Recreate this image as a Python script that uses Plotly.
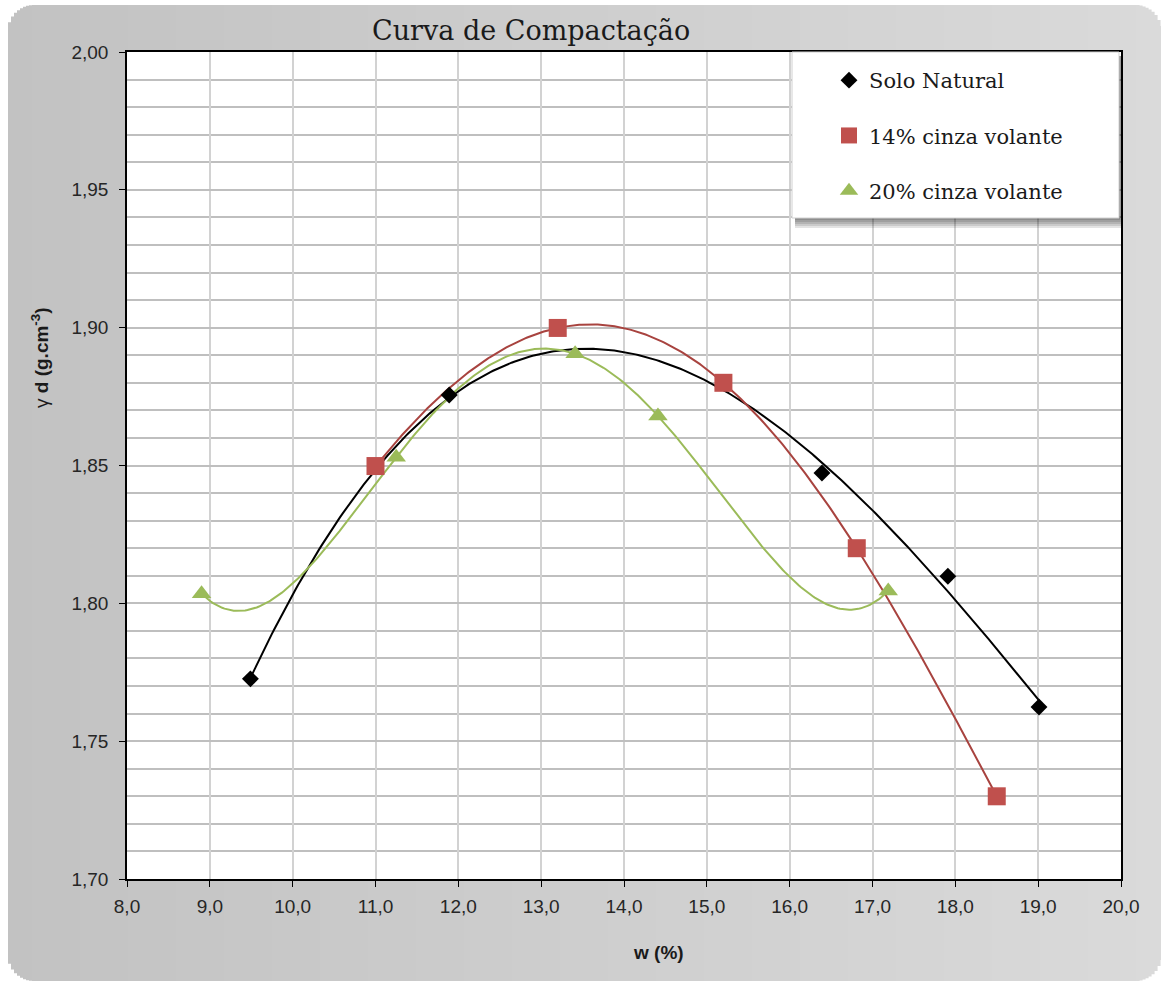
import numpy as np
import plotly.graph_objects as go

# ---------------- data ----------------
solo_w = [9.49, 11.89, 16.39, 17.91, 19.01]
solo_g = [1.7726, 1.8756, 1.8473, 1.8098, 1.7624]

c14_w = [11.00, 13.20, 15.20, 16.81, 18.50]
c14_g = [1.8498, 1.8999, 1.8800, 1.8200, 1.7300]

c20_w = [8.90, 11.25, 13.41, 14.41, 17.19]
c20_g = [1.8035, 1.8530, 1.8905, 1.8680, 1.8045]

series_names = ["Solo Natural", "14% cinza volante", "20% cinza volante"]
fit_orders = [3, 4, 4]

# ---------------- geometry ----------------
W, H = 1161, 983
L, R, T, B = 127, 40, 52, 104
PW, PH = W - L - R, H - T - B


def px(x):
    return (x - L) / PW


def py(y):
    return (H - B - y) / PH


shapes = []
# rounded gradient background
bx0, bx1, by0, by1, rad = 8, 1161, 5, 981, 26
c_left, c_right = 0xC2, 0xDA
step = 3
x = bx0
while x < bx1:
    xe = min(x + step, bx1)
    xc = (x + xe) / 2
    dy = 0
    if xc < bx0 + rad:
        d = bx0 + rad - xc
        dy = rad - np.sqrt(max(rad ** 2 - d ** 2, 0))
    elif xc > bx1 - rad:
        d = xc - (bx1 - rad)
        dy = rad - np.sqrt(max(rad ** 2 - d ** 2, 0))
    t = (xc - bx0) / (bx1 - bx0)
    v = int(round(c_left + (c_right - c_left) * t))
    col = f"rgb({v},{v},{v})"
    shapes.append(dict(type="rect", xref="paper", yref="paper", layer="below",
                       x0=px(x), x1=px(xe + 0.6), y0=py(by1 - dy), y1=py(by0 + dy),
                       fillcolor=col, line=dict(width=0)))
    x = xe
# plot area white
shapes.append(dict(type="rect", xref="paper", yref="paper", layer="below",
                   x0=0, x1=1, y0=0, y1=1, fillcolor="white", line=dict(width=0)))

# legend box with shadow
lx0, lx1, ly0, ly1 = 792, 1119, 52, 218
for k in range(1, 6):
    shapes.append(dict(type="rect", xref="paper", yref="paper", layer="above",
                       x0=px(lx0 + 3), x1=px(lx1 + 1 + k * 0.4), y0=py(ly1 + 2 * k), y1=py(ly0 + 4),
                       fillcolor="rgba(0,0,0,0.11)", line=dict(width=0)))
shapes.append(dict(type="rect", xref="paper", yref="paper", layer="above",
                   x0=px(lx0), x1=px(lx1), y0=py(ly1), y1=py(ly0),
                   fillcolor="white", line=dict(width=1, color="#d0d0d0")))

fig = go.Figure()

marker_styles = [
    dict(symbol="diamond", size=13, color="black"),
    dict(symbol="square", size=18, color="#C0504D"),
    dict(symbol="triangle-up", size=17, color="#9BBB59"),
]
line_colors = ["black", "#A8433F", "#9BBB59"]
datasets = [(solo_w, solo_g), (c14_w, c14_g), (c20_w, c20_g)]

for i, (ws, gs) in enumerate(datasets):
    coefs = np.polyfit(ws, gs, fit_orders[i])
    xs = np.linspace(min(ws), max(ws), 300)
    fig.add_trace(go.Scatter(x=xs, y=np.polyval(coefs, xs), mode="lines",
                             line=dict(color=line_colors[i], width=2),
                             showlegend=False, hoverinfo="skip"))
for i, (ws, gs) in enumerate(datasets):
    fig.add_trace(go.Scatter(x=ws, y=gs, mode="markers", name=series_names[i],
                             marker=dict(**marker_styles[i], line=dict(width=0)),
                             legendgroup=f"g{i}"))

serif = "DejaVu Serif"
sans = "Liberation Sans, Arial, sans-serif"

annotations = [
    dict(text="Curva de Compactação", xref="paper", yref="paper", x=px(531), y=py(30),
         xanchor="center", yanchor="middle", showarrow=False,
         font=dict(family=serif, size=27, color="#1a1a1a")),
    dict(text="<b>w (%)</b>", xref="paper", yref="paper", x=px(658), y=py(952),
         xanchor="center", yanchor="middle", showarrow=False,
         font=dict(family=sans, size=19, color="#1a1a1a")),
    dict(text="γ <b>d (g.cm<sup>-3</sup>)</b>", xref="paper", yref="paper", x=px(40), y=py(358),
         xanchor="center", yanchor="middle", showarrow=False, textangle=-90,
         font=dict(family=sans, size=19, color="#1a1a1a")),
]

fig.update_layout(
    width=W, height=H,
    margin=dict(l=L, r=R, t=T, b=B, pad=0),
    paper_bgcolor="white", plot_bgcolor="white",
    separators=",.",
    shapes=shapes,
    annotations=annotations,
    showlegend=True,
    legend=dict(x=px(829), y=py(60), xanchor="left", yanchor="top",
                bgcolor="rgba(0,0,0,0)", borderwidth=0,
                font=dict(family=serif, size=21, color="#1a1a1a"),
                tracegroupgap=25, itemsizing="trace"),
    xaxis=dict(range=[8, 20], dtick=1, tick0=8, tickformat=".1f",
               showgrid=True, gridcolor="#d2d2d2", gridwidth=1.5,
               zeroline=False, showline=True, linecolor="black", linewidth=1.5, mirror=True,
               ticks="outside", ticklen=6, tickcolor="black", tickwidth=1.2,
               tickfont=dict(family=sans, size=19, color="#262626"),
               ticklabelstandoff=3),
    yaxis=dict(range=[1.70, 2.00], dtick=0.05, tick0=1.70, tickformat=".2f",
               showgrid=True, gridcolor="#bfbfbf", gridwidth=2,
               minor=dict(dtick=0.01, showgrid=True, gridcolor="#bfbfbf", gridwidth=2, ticks=""),
               zeroline=False, showline=True, linecolor="black", linewidth=1.5, mirror=True,
               ticks="outside", ticklen=6, tickcolor="black", tickwidth=1.2,
               tickfont=dict(family=sans, size=19, color="#262626"),
               ticklabelstandoff=7),
)

fig.write_html("out.html")
